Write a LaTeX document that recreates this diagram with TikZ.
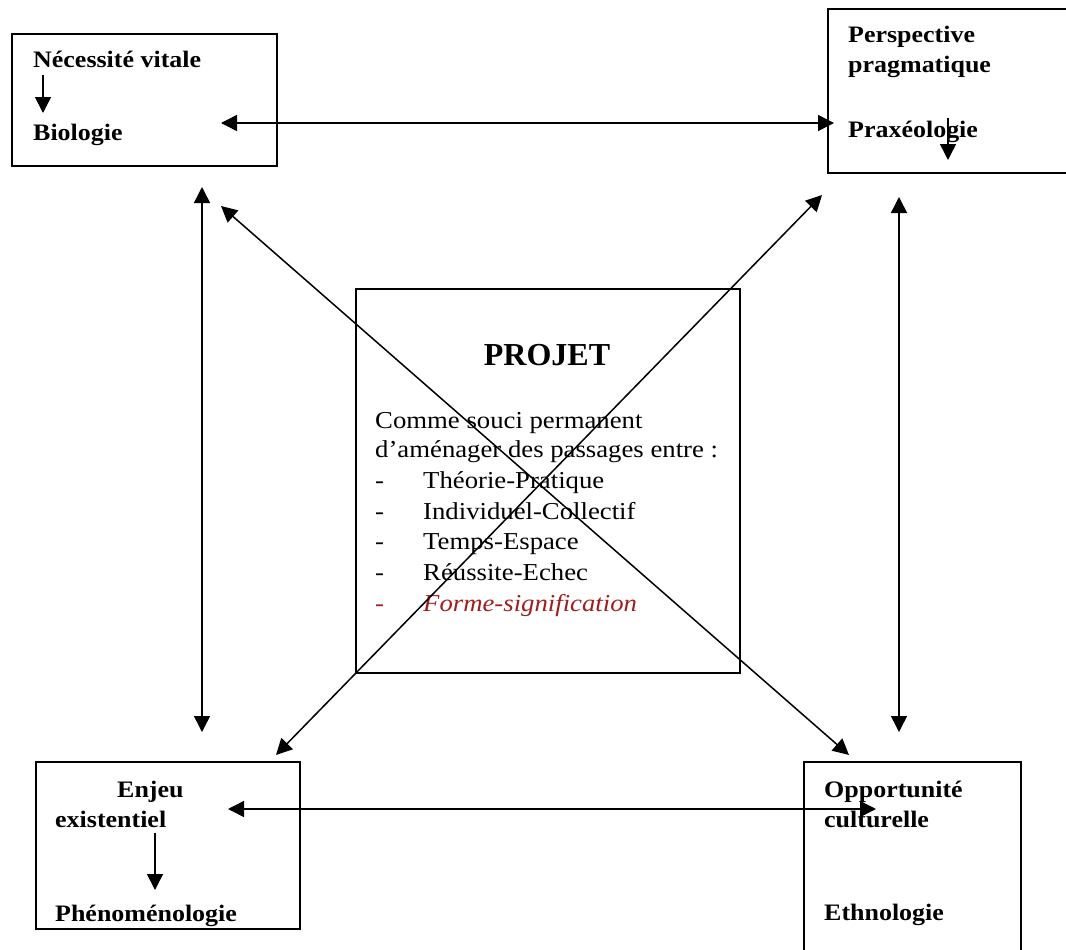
\documentclass[tikz,border=0pt]{standalone}
\usepackage{fontspec}
\setmainfont{Liberation Serif}[FakeStretch=1.1]
\newfontfamily\plainfont{Liberation Serif}
\usetikzlibrary{arrows.meta}
\definecolor{darkred}{RGB}{160,30,30}
\tikzset{
  box/.style={draw, line width=1.8pt, rectangle, anchor=north west, inner sep=0pt},
  lbl/.style={anchor=base west, inner sep=0pt, font=\fontsize{23.6}{26}\selectfont\bfseries},
  txt/.style={anchor=base west, inner sep=0pt, font=\fontsize{24.3}{28}\selectfont},
  link/.style={line width=1.5pt, {Triangle[width=16pt,length=16pt]}-{Triangle[width=16pt,length=16pt]}},
  down/.style={line width=1.5pt, -{Triangle[width=16pt,length=16pt]}},
}
\begin{document}
\begin{tikzpicture}[x=1pt,y=-1pt]
\useasboundingbox (0,0) rectangle (1066,950);
\clip (0,0) rectangle (1066,950);
\fill[white] (0,0) rectangle (1066,950);
% boxes
\node[box, minimum width=265pt, minimum height=132pt] (tl) at (11,33) {};
\node[box, minimum width=250pt, minimum height=164pt] (tr) at (827,8) {};
\node[box, minimum width=264pt, minimum height=167pt] (bl) at (35,761) {};
\node[box, minimum width=217pt, minimum height=210pt] (br) at (803,761) {};
\node[box, minimum width=384pt, minimum height=384pt] (c) at (355,288) {};
% top-left texts
\node[lbl] (nv) at (33,67) {Nécessité vitale};
\node[lbl] (bio) at (33,140) {Biologie};
\coordinate (a1s) at (43,75);
\coordinate (a1e) at (43,113);
\draw[down] (a1s) -- (a1e);
% top-right texts
\node[lbl] (pe) at (848,43) {Perspective};
\node[lbl] (pr) at (848,73) {pragmatique};
\node[lbl] (px) at (848,137) {Praxéologie};
\coordinate (a2s) at (948,118);
\coordinate (a2e) at (948,160);
\draw[down] (a2s) -- (a2e);
% bottom-left texts
\node[lbl] (en) at (117,797) {Enjeu};
\node[lbl] (ex) at (55,827) {existentiel};
\node[lbl] (ph) at (55,921) {Phénoménologie};
\coordinate (a3s) at (155,833);
\coordinate (a3e) at (155,890);
\draw[down] (a3s) -- (a3e);
% bottom-right texts
\node[lbl] (op) at (824,797) {Opportunité};
\node[lbl] (cu) at (824,827) {culturelle};
\node[lbl] (et) at (824,920) {Ethnologie};
% center
\node[anchor=base, inner sep=0pt, font=\plainfont\fontsize{32}{36}\selectfont\bfseries] (pj) at (547,365) {PROJET};
\node[txt] (l1) at (375,428) {Comme souci permanent};
\node[txt] (l2) at (375,457) {d’aménager des passages entre :};
\node[txt] (d1) at (375,488) {-};
\node[txt] (i1) at (423,488) {Théorie-Pratique};
\node[txt] (d2) at (375,519) {-};
\node[txt] (i2) at (423,519) {Individuel-Collectif};
\node[txt] (d3) at (375,549) {-};
\node[txt] (i3) at (423,549) {Temps-Espace};
\node[txt] (d4) at (375,580) {-};
\node[txt] (i4) at (423,580) {Réussite-Echec};
\node[txt, text=darkred] (d5) at (375,611) {-};
\node[txt, text=darkred, font=\fontsize{24.3}{28}\selectfont\itshape] (i5) at (423,611) {Forme-signification};
% connector end points
\coordinate (ht1) at (221,123);
\coordinate (ht2) at (834,123);
\coordinate (hb1) at (228,809);
\coordinate (hb2) at (876,809);
\coordinate (vl1) at (202,187);
\coordinate (vl2) at (202,732);
\coordinate (vr1) at (899,197);
\coordinate (vr2) at (899,732);
\coordinate (dg1) at (221,206);
\coordinate (dg2) at (849,755);
\coordinate (dh1) at (822,195);
\coordinate (dh2) at (276,755);
% connectors
\draw[link] (ht1) -- (ht2);
\draw[link] (hb1) -- (hb2);
\draw[link] (vl1) -- (vl2);
\draw[link] (vr1) -- (vr2);
\draw[link] (dg1) -- (dg2);
\draw[link] (dh1) -- (dh2);
\end{tikzpicture}
\end{document}
